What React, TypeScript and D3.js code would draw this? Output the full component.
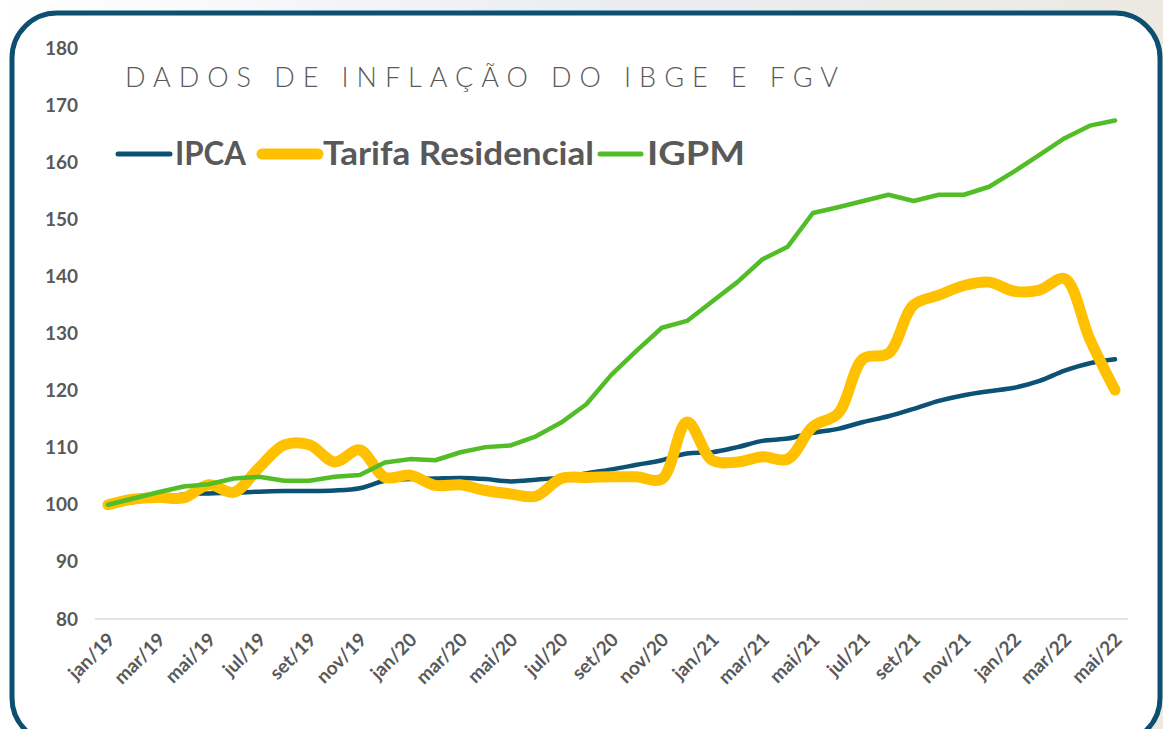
import React, { useEffect, useRef } from 'react';
import * as d3 from 'd3';

const months = [
  'jan/19', 'fev/19', 'mar/19', 'abr/19', 'mai/19', 'jun/19', 'jul/19', 'ago/19', 'set/19', 'out/19', 'nov/19', 'dez/19',
  'jan/20', 'fev/20', 'mar/20', 'abr/20', 'mai/20', 'jun/20', 'jul/20', 'ago/20', 'set/20', 'out/20', 'nov/20', 'dez/20',
  'jan/21', 'fev/21', 'mar/21', 'abr/21', 'mai/21', 'jun/21', 'jul/21', 'ago/21', 'set/21', 'out/21', 'nov/21', 'dez/21',
  'jan/22', 'fev/22', 'mar/22', 'abr/22', 'mai/22',
];

const ipca = [
  100, 100.5, 101.2, 101.8, 102.0, 102.1, 102.3, 102.4, 102.4, 102.5, 102.9, 104.2,
  104.5, 104.6, 104.7, 104.5, 104.1, 104.4, 104.8, 105.5, 106.2, 107.0, 107.8, 109.0,
  109.2, 110.1, 111.2, 111.6, 112.6, 113.3, 114.5, 115.5, 116.8, 118.2, 119.2, 119.9,
  120.5, 121.7, 123.5, 124.8, 125.5,
];

const tarifa = [
  100, 101.0, 101.3, 101.2, 103.5, 102.2, 106.5, 110.5, 110.5, 107.5, 109.6, 104.8,
  105.2, 103.4, 103.5, 102.5, 101.9, 101.5, 104.6, 104.8, 104.9, 104.9, 104.5, 114.5,
  107.8, 107.5, 108.4, 108.0, 113.7, 116.0, 125.6, 126.5, 135.0, 136.7, 138.4, 139.0,
  137.4, 137.6, 139.6, 129.0, 120.1,
];

const igpm = [
  100, 101.1, 102.2, 103.2, 103.6, 104.6, 104.9, 104.2, 104.2, 104.9, 105.2, 107.4,
  108.0, 107.8, 109.2, 110.1, 110.4, 112.0, 114.4, 117.6, 122.8, 127.0, 131.0, 132.2,
  135.6, 139.0, 143.0, 145.2, 151.1, 152.1, 153.2, 154.3, 153.2, 154.3, 154.3, 155.7,
  158.4, 161.3, 164.2, 166.4, 167.3,
];

const yTicks = [80, 90, 100, 110, 120, 130, 140, 150, 160, 170, 180];

const App = () => {
  const svgRef = useRef(null);

  useEffect(() => {
    const svg = d3.select(svgRef.current);
    svg.selectAll('*').remove();

    const width = 1163;
    const height = 729;
    const gray = '#595959';
    const font = 'Lato, "Open Sans", sans-serif';

    // background strip above the frame
    const defs = svg.append('defs');
    const grad = defs.append('linearGradient').attr('id', 'bg').attr('x1', 0).attr('x2', 1);
    grad.append('stop').attr('offset', '0').attr('stop-color', '#ffffff');
    grad.append('stop').attr('offset', '0.5').attr('stop-color', '#e9eef3');
    grad.append('stop').attr('offset', '1').attr('stop-color', '#ece9e1');
    svg.append('rect').attr('width', width).attr('height', height).attr('fill', 'url(#bg)');

    svg.append('rect')
      .attr('x', 12).attr('y', 13)
      .attr('width', 1148).attr('height', 730)
      .attr('rx', 45)
      .attr('fill', '#ffffff')
      .attr('stroke', '#0d4f70')
      .attr('stroke-width', 5);

    const x = d3.scalePoint().domain(months).range([108, 1115]);
    const y = d3.scaleLinear().domain([80, 180]).range([619, 48]);

    // baseline gridline
    svg.append('line')
      .attr('x1', 95).attr('x2', 1128)
      .attr('y1', y(80)).attr('y2', y(80))
      .attr('stroke', '#d9d9d9').attr('stroke-width', 1.5);

    svg.append('g')
      .attr('transform', 'translate(84,0)')
      .call(d3.axisLeft(y).tickValues(yTicks).tickSize(0).tickPadding(6))
      .call(g => g.select('.domain').remove())
      .call(g => g.selectAll('text')
        .attr('fill', gray)
        .attr('font-family', font)
        .attr('font-weight', 700)
        .attr('font-size', 19));

    const shown = months.filter((_, i) => i % 2 === 0);
    svg.append('g')
      .selectAll('text')
      .data(shown)
      .join('text')
      .attr('transform', d => `translate(${x(d) + 8},${641}) rotate(-45)`)
      .attr('text-anchor', 'end')
      .attr('fill', gray)
      .attr('font-family', font)
      .attr('font-weight', 700)
      .attr('font-size', 19)
      .text(d => d);

    const series = [
      { name: 'IPCA', values: ipca, color: '#0b5274', w: 4.5, curve: d3.curveCatmullRom.alpha(0.5) },
      { name: 'Tarifa Residencial', values: tarifa, color: '#ffc000', w: 11, curve: d3.curveCatmullRom.alpha(0.5) },
      { name: 'IGPM', values: igpm, color: '#52bd26', w: 4.5, curve: d3.curveLinear },
    ];

    series.forEach(s => {
      const line = d3.line()
        .x((_, i) => x(months[i]))
        .y(d => y(d))
        .curve(s.curve);
      svg.append('path')
        .datum(s.values)
        .attr('d', line)
        .attr('fill', 'none')
        .attr('stroke', s.color)
        .attr('stroke-width', s.w)
        .attr('stroke-linecap', 'round')
        .attr('stroke-linejoin', 'round');
    });

    // title
    svg.append('text')
      .attr('x', 125).attr('y', 87)
      .attr('textLength', 713)
      .attr('lengthAdjust', 'spacing')
      .attr('fill', gray)
      .attr('font-family', font)
      .attr('font-weight', 300)
      .attr('font-size', 27)
      .text('DADOS DE INFLAÇÃO DO IBGE E FGV');

    // legend
    const legend = [
      { name: 'IPCA', color: '#0b5274', w: 5, x1: 118, x2: 170, tx: 175, len: 71 },
      { name: 'Tarifa Residencial', color: '#ffc000', w: 11, x1: 262, x2: 318, tx: 323, len: 271 },
      { name: 'IGPM', color: '#52bd26', w: 5, x1: 600, x2: 641, tx: 647, len: 98 },
    ];
    const lg = svg.append('g');
    legend.forEach(l => {
      lg.append('line')
        .attr('x1', l.x1).attr('x2', l.x2)
        .attr('y1', 154).attr('y2', 154)
        .attr('stroke', l.color)
        .attr('stroke-width', l.w)
        .attr('stroke-linecap', 'round');
      lg.append('text')
        .attr('x', l.tx).attr('y', 165)
        .attr('textLength', l.len)
        .attr('lengthAdjust', 'spacingAndGlyphs')
        .attr('fill', gray)
        .attr('font-family', font)
        .attr('font-weight', 700)
        .attr('font-size', 33)
        .text(l.name);
    });
  }, []);

  return (
    <svg
      ref={svgRef}
      width={1163}
      height={729}
      style={{ position: 'absolute', left: 0, top: 0, display: 'block' }}
    />
  );
};

export default App;
